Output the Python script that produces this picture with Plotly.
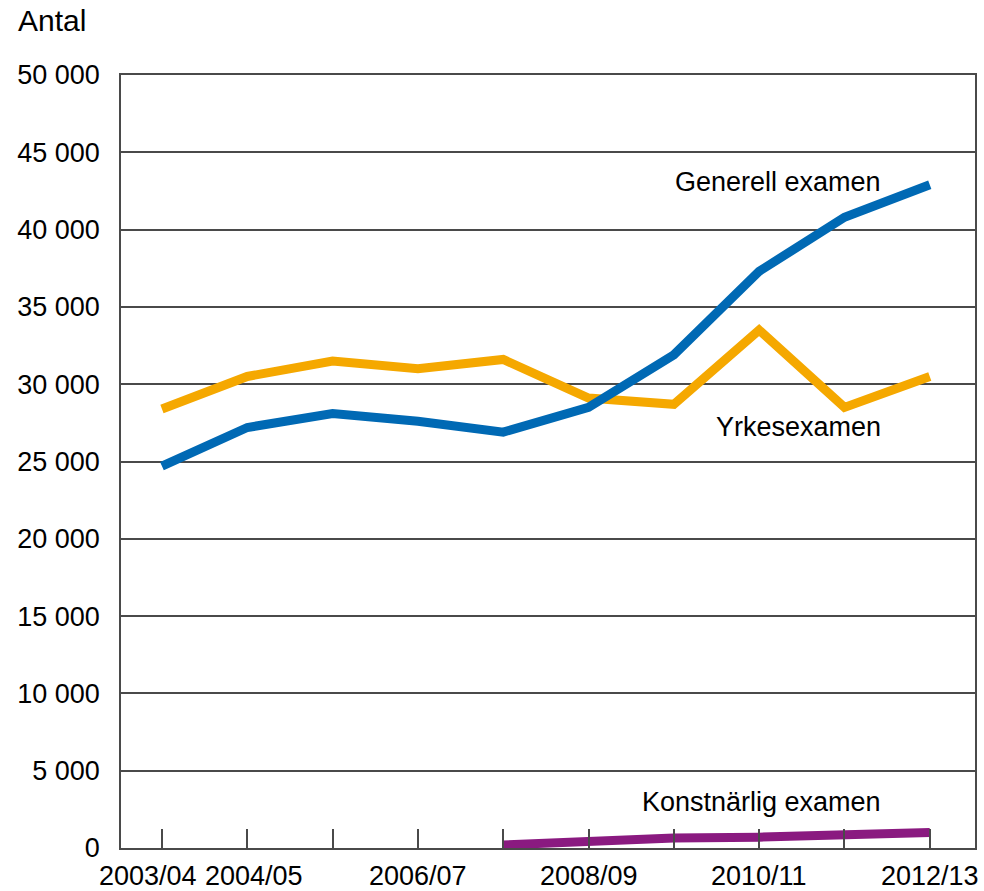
import plotly.graph_objects as go

years = ["2003/04", "2004/05", "2005/06", "2006/07", "2007/08",
         "2008/09", "2009/10", "2010/11", "2011/12", "2012/13"]
generell = [24700, 27200, 28100, 27600, 26900, 28500, 31900, 37300, 40800, 42900]
yrkes = [28400, 30500, 31500, 31000, 31600, 29100, 28700, 33500, 28500, 30500]
konst = [None, None, None, None, 200, 400, 650, 700, 800, 1000]
shown_labels = ["2003/04", "2004/05", "2006/07", "2008/09", "2010/11", "2012/13"]
label_shift = {"2003/04": -14, "2004/05": 7}

xs = list(range(len(years)))
FONT = "Liberation Sans, Arial, sans-serif"
DARK = "#4a4a4a"
FS = 27

fig = go.Figure()
fig.add_trace(go.Scatter(x=xs, y=yrkes, mode="lines", line=dict(color="#f5a800", width=9),
                         name="Yrkesexamen", hoverinfo="y"))
fig.add_trace(go.Scatter(x=xs, y=generell, mode="lines", line=dict(color="#0069b4", width=9),
                         name="Generell examen", hoverinfo="y"))
fig.add_trace(go.Scatter(x=xs, y=konst, mode="lines", line=dict(color="#8a1a80", width=9),
                         name="Konstnärlig examen", hoverinfo="y"))

ann = []
for i, yname in enumerate(years):
    if yname in shown_labels:
        ann.append(dict(x=i, y=0, xref="x", yref="paper", yanchor="middle", xanchor="center",
                        yshift=-28, xshift=label_shift.get(yname, 0), text=yname,
                        showarrow=False, font=dict(size=FS, color="black", family=FONT)))

for txt, xv, yv in [("Generell examen", 8.45, 43100), ("Yrkesexamen", 8.45, 27200),
                    ("Konstnärlig examen", 8.45, 3000)]:
    ann.append(dict(x=xv, y=yv, xref="x", yref="y", xanchor="right", yanchor="middle",
                    text=txt, showarrow=False, font=dict(size=FS, color="black", family=FONT)))

ann.append(dict(x=-0.1226, y=1.0699, xref="paper", yref="paper", xanchor="left",
                yanchor="middle", text="Antal", showarrow=False,
                font=dict(size=30, color="black", family=FONT)))

fig.update_layout(
    width=984, height=891,
    margin=dict(l=121, r=9, t=75, b=43),
    plot_bgcolor="white", paper_bgcolor="white",
    showlegend=False,
    separators=", ",
    font=dict(family=FONT, size=FS, color="black"),
    annotations=ann,
    xaxis=dict(range=[-0.48, 9.53], tickvals=xs, showticklabels=False, automargin=False,
               ticks="inside", ticklen=19, tickwidth=1.5, tickcolor=DARK,
               showgrid=False, zeroline=False, showline=True, linecolor=DARK,
               linewidth=1.5, mirror=True),
    yaxis=dict(range=[0, 50000], dtick=5000, tickformat=",d", automargin=False,
               showgrid=True, gridcolor=DARK, gridwidth=1.5,
               zeroline=False, showline=True, linecolor=DARK, linewidth=1.5,
               mirror=True, ticks="", ticklabelstandoff=14,
               tickfont=dict(size=FS, color="black", family=FONT)),
)

fig.write_html("out.html", config={"displayModeBar": False},
               post_script="document.body.style.margin='0';document.body.style.overflow='hidden';")
